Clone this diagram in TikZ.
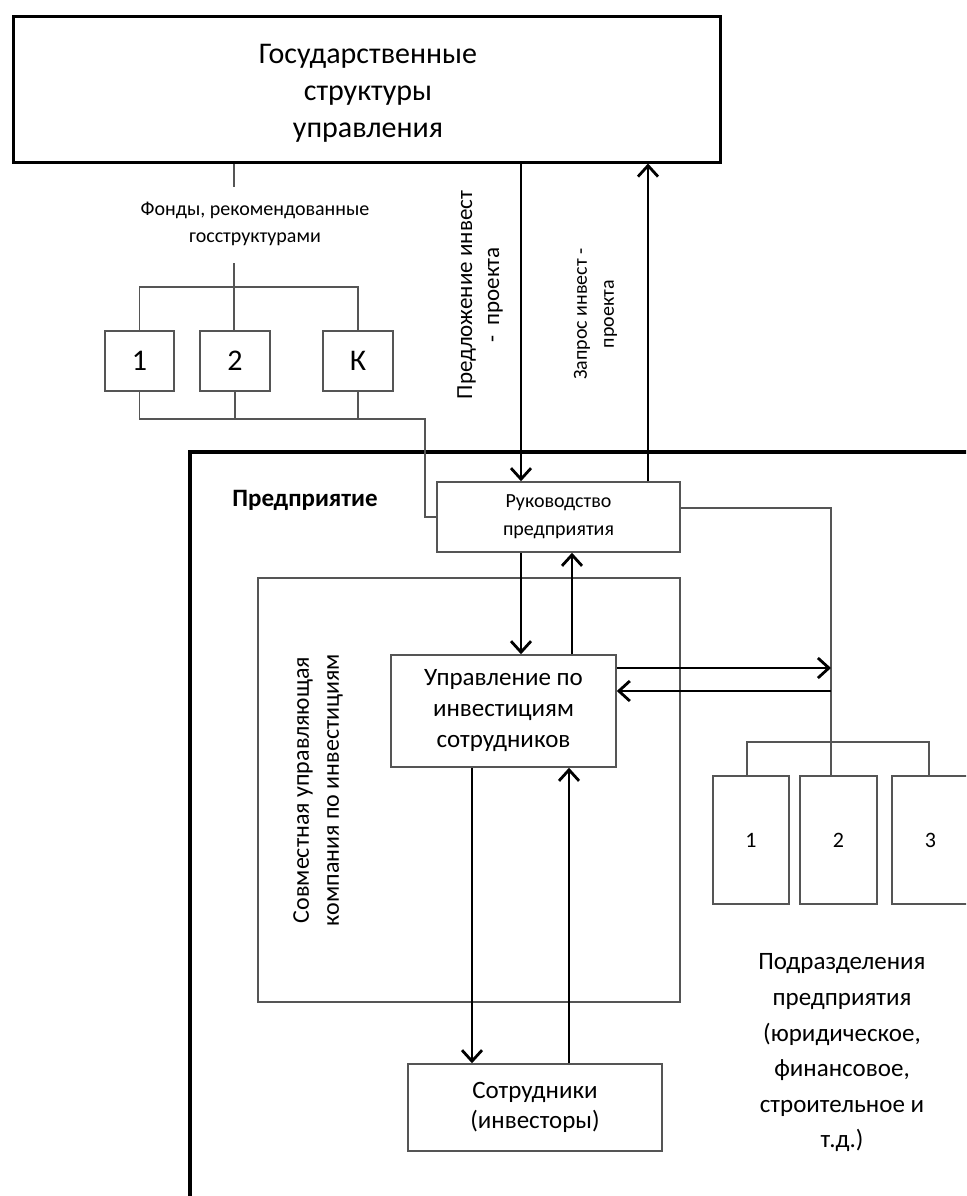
\documentclass[tikz,border=0pt]{standalone}
\usepackage{fontspec}
\setmainfont{Carlito}
\usetikzlibrary{arrows.meta}
\definecolor{lg}{RGB}{85,85,85}
\begin{document}
\begin{tikzpicture}[x=1pt,y=-1pt,
  box/.style={draw=lg, line width=1.5pt, inner sep=0pt, align=center, text=black},
  conn/.style={draw=lg, line width=1.5pt},
  arr/.style={draw=black, line width=2.2pt, -{Straight Barb[length=11pt,width=20pt,line width=2.8pt]}},
  fbig/.style={font=\fontsize{30}{37}\selectfont},
  fsmall/.style={font=\fontsize{20}{27}\selectfont},
  fmid/.style={font=\fontsize{25}{31}\selectfont},
]
\useasboundingbox (0,0) rectangle (966,1196);
\clip (0,0) rectangle (966,1196);

% government box
\node[box, draw=black, line width=3pt, minimum width=707pt, minimum height=145pt] (gov) at (366.5,89.5) {};
\node[fbig, align=center] (govt) at (368,93) {Государственные\\структуры\\управления};

% funds
\node[box, minimum width=69pt, minimum height=60pt, font=\fontsize{30}{36}\selectfont] (f1) at (139.5,361) {1};
\node[box, minimum width=70pt, minimum height=60pt, font=\fontsize{30}{36}\selectfont] (f2) at (235,361) {2};
\node[box, minimum width=70pt, minimum height=60pt, font=\fontsize{30}{36}\selectfont] (fK) at (358,361) {К};
\node[fsmall, align=center] (flab) at (255,223.5) {Фонды, рекомендованные\\госструктурами};

\coordinate (c1) at (234,187);
\coordinate (c2) at (234,263);
\coordinate (tb) at (0,287);
\coordinate (bb) at (0,419);
\coordinate (bj) at (425,419);

% enterprise frame
\node[draw=black, line width=3.5pt, minimum width=900pt, minimum height=900pt, anchor=north west, inner sep=0pt] (ent) at (188,450) {};
\node[font=\bfseries\fontsize{25}{28}\selectfont] (entl) at (305,500) {Предприятие};

% management
\node[box, minimum width=243pt, minimum height=70pt, font=\fontsize{20}{28}\selectfont] (ruk) at (558.5,517) {Руководство\\предприятия};

\draw[conn] (gov.south -| c1) -- (c1);
\draw[conn] (c2) -- (f2.north -| c2);
\draw[conn] (f1.north) -- (f1.north |- tb) -- (fK.north |- tb) -- (fK.north);
\draw[conn] (f1.south) -- (f1.south |- bb) -- (bj) |- (ruk.west);
\draw[conn] (f2.south) -- (f2.south |- bb);
\draw[conn] (fK.south) -- (fK.south |- bb);

\coordinate (xa) at (521,0);
\coordinate (xb) at (648,0);
\coordinate (xc) at (572,0);
\draw[arr] (gov.south -| xa) -- (ruk.north -| xa);
\draw[arr] (ruk.north -| xb) -- (gov.south -| xb);
\node[font=\fontsize{23}{27}\selectfont, align=center, rotate=90] (lp) at (480,295) {Предложение инвест\\-~~проекта};
\node[fsmall, align=center, rotate=90] (lz) at (595.5,314) {Запрос инвест -\\проекта};

% joint company
\node[box, minimum width=422pt, minimum height=424pt] (jmc) at (469,790) {};
\node[font=\fontsize{24}{30}\selectfont, align=center, rotate=90] (jmcl) at (318,790) {Совместная управляющая\\компания по инвестициям};

\node[box, minimum width=225pt, minimum height=112pt, fmid] (upr) at (503.5,711) {Управление по\\инвестициям\\сотрудников};
\draw[arr] (ruk.south -| xa) -- (upr.north -| xa);
\draw[arr] (upr.north -| xc) -- (ruk.south -| xc);

% departments
\node[box, minimum width=76pt, minimum height=128pt, font=\fontsize{22}{26}\selectfont] (d1) at (751,840) {1};
\node[box, minimum width=77pt, minimum height=128pt, font=\fontsize{22}{26}\selectfont] (d2) at (838.5,840) {2};
\node[box, minimum width=77pt, minimum height=128pt, font=\fontsize{22}{26}\selectfont] (d3) at (930.5,840) {3};
\node[font=\fontsize{25}{35.6}\selectfont, align=center] (dl) at (842,1053) {Подразделения\\предприятия\\(юридическое,\\финансовое,\\строительное и\\т.д.)};

\coordinate (rr) at (831,508);
\coordinate (ya) at (0,668);
\coordinate (yb) at (0,691);
\coordinate (lb1) at (747,742);
\coordinate (lb3) at (929,742);
\draw[conn] (ruk.east |- rr) -- (rr) -- (d2.north -| rr);
\draw[arr] (upr.east |- ya) -- (rr |- ya);
\draw[arr] (rr |- yb) -- (upr.east |- yb);
\draw[conn] (d1.north -| lb1) -- (lb1) -- (lb3) -- (d3.north -| lb3);

% employees
\node[box, minimum width=254pt, minimum height=87pt, font=\fontsize{25}{30}\selectfont] (sot) at (535,1107.5) {Сотрудники\\(инвесторы)};
\coordinate (xe) at (472,0);
\coordinate (xf) at (569,0);
\draw[arr] (upr.south -| xe) -- (sot.north -| xe);
\draw[arr] (sot.north -| xf) -- (upr.south -| xf);
\end{tikzpicture}
\end{document}
